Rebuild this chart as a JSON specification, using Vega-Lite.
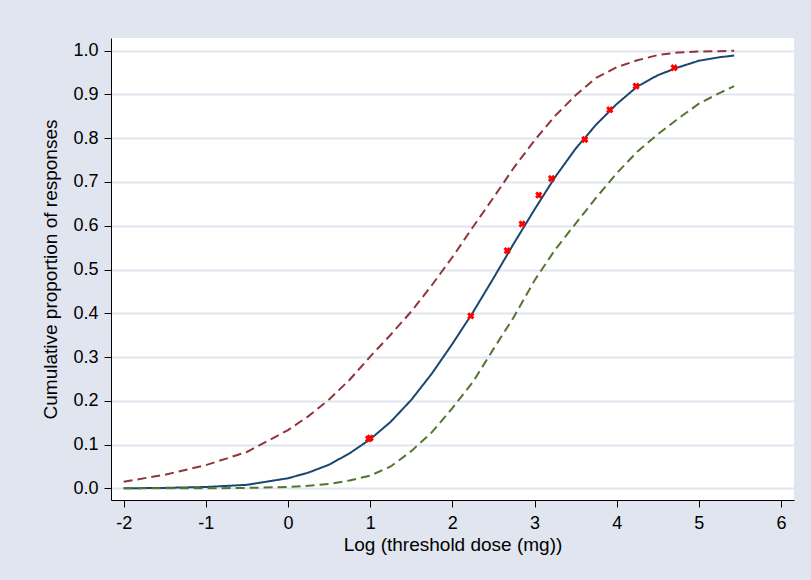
{
  "$schema": "https://vega.github.io/schema/vega-lite/v6.json",
  "width": 683,
  "height": 462,
  "autosize": "none",
  "padding": {"left": 111, "top": 38, "right": 17, "bottom": 80},
  "background": "#e1e5ef",
  "view": {"fill": "white", "stroke": null},
  "config": {
    "font": "Liberation Sans",
    "axis": {
      "domainColor": "black",
      "domainWidth": 1,
      "tickColor": "black",
      "tickSize": 7,
      "labelFontSize": 18,
      "labelColor": "black",
      "titleFontSize": 19,
      "titleColor": "black",
      "titleFontWeight": "normal"
    }
  },
  "datasets": {
    "curves": [
      {"x": -2, "y": 0.000, "s": "fit"}, {"x": -1.5, "y": 0.001, "s": "fit"}, {"x": -1, "y": 0.003, "s": "fit"}, {"x": -0.5, "y": 0.008, "s": "fit"},
      {"x": 0, "y": 0.023, "s": "fit"}, {"x": 0.25, "y": 0.036, "s": "fit"}, {"x": 0.5, "y": 0.054, "s": "fit"}, {"x": 0.75, "y": 0.080, "s": "fit"},
      {"x": 1, "y": 0.112, "s": "fit"}, {"x": 1.25, "y": 0.152, "s": "fit"}, {"x": 1.5, "y": 0.202, "s": "fit"}, {"x": 1.75, "y": 0.262, "s": "fit"},
      {"x": 2, "y": 0.330, "s": "fit"}, {"x": 2.25, "y": 0.402, "s": "fit"}, {"x": 2.5, "y": 0.480, "s": "fit"}, {"x": 2.75, "y": 0.560, "s": "fit"},
      {"x": 3, "y": 0.637, "s": "fit"}, {"x": 3.25, "y": 0.711, "s": "fit"}, {"x": 3.5, "y": 0.776, "s": "fit"}, {"x": 3.75, "y": 0.831, "s": "fit"},
      {"x": 4, "y": 0.878, "s": "fit"}, {"x": 4.25, "y": 0.918, "s": "fit"}, {"x": 4.5, "y": 0.944, "s": "fit"}, {"x": 4.75, "y": 0.962, "s": "fit"},
      {"x": 5, "y": 0.977, "s": "fit"}, {"x": 5.25, "y": 0.985, "s": "fit"}, {"x": 5.43, "y": 0.989, "s": "fit"},
      {"x": -2, "y": 0.015, "s": "upper"}, {"x": -1.5, "y": 0.031, "s": "upper"}, {"x": -1, "y": 0.053, "s": "upper"}, {"x": -0.5, "y": 0.083, "s": "upper"},
      {"x": 0, "y": 0.133, "s": "upper"}, {"x": 0.25, "y": 0.165, "s": "upper"}, {"x": 0.5, "y": 0.203, "s": "upper"}, {"x": 0.75, "y": 0.248, "s": "upper"},
      {"x": 1, "y": 0.301, "s": "upper"}, {"x": 1.25, "y": 0.351, "s": "upper"}, {"x": 1.5, "y": 0.404, "s": "upper"}, {"x": 1.75, "y": 0.464, "s": "upper"},
      {"x": 2, "y": 0.528, "s": "upper"}, {"x": 2.25, "y": 0.597, "s": "upper"}, {"x": 2.5, "y": 0.664, "s": "upper"}, {"x": 2.75, "y": 0.733, "s": "upper"},
      {"x": 3, "y": 0.795, "s": "upper"}, {"x": 3.25, "y": 0.851, "s": "upper"}, {"x": 3.5, "y": 0.898, "s": "upper"}, {"x": 3.75, "y": 0.938, "s": "upper"},
      {"x": 4, "y": 0.962, "s": "upper"}, {"x": 4.25, "y": 0.978, "s": "upper"}, {"x": 4.5, "y": 0.990, "s": "upper"}, {"x": 4.75, "y": 0.996, "s": "upper"},
      {"x": 5, "y": 0.998, "s": "upper"}, {"x": 5.25, "y": 0.999, "s": "upper"}, {"x": 5.43, "y": 1.000, "s": "upper"},
      {"x": -2, "y": 0.000, "s": "lower"}, {"x": -1.5, "y": 0.000, "s": "lower"}, {"x": -1, "y": 0.000, "s": "lower"}, {"x": -0.5, "y": 0.001, "s": "lower"},
      {"x": 0, "y": 0.003, "s": "lower"}, {"x": 0.25, "y": 0.006, "s": "lower"}, {"x": 0.5, "y": 0.010, "s": "lower"}, {"x": 0.75, "y": 0.018, "s": "lower"},
      {"x": 1, "y": 0.029, "s": "lower"}, {"x": 1.25, "y": 0.050, "s": "lower"}, {"x": 1.5, "y": 0.085, "s": "lower"}, {"x": 1.75, "y": 0.128, "s": "lower"},
      {"x": 2, "y": 0.183, "s": "lower"}, {"x": 2.25, "y": 0.243, "s": "lower"}, {"x": 2.5, "y": 0.318, "s": "lower"}, {"x": 2.75, "y": 0.392, "s": "lower"},
      {"x": 3, "y": 0.475, "s": "lower"}, {"x": 3.25, "y": 0.545, "s": "lower"}, {"x": 3.5, "y": 0.605, "s": "lower"}, {"x": 3.75, "y": 0.664, "s": "lower"},
      {"x": 4, "y": 0.720, "s": "lower"}, {"x": 4.25, "y": 0.769, "s": "lower"}, {"x": 4.5, "y": 0.809, "s": "lower"}, {"x": 4.75, "y": 0.845, "s": "lower"},
      {"x": 5, "y": 0.879, "s": "lower"}, {"x": 5.25, "y": 0.903, "s": "lower"}, {"x": 5.43, "y": 0.919, "s": "lower"}
    ],
    "obs": [
      {"x": 0.98, "y": 0.113}, {"x": 1.0, "y": 0.115}, {"x": 2.225, "y": 0.394}, {"x": 2.667, "y": 0.543},
      {"x": 2.849, "y": 0.604}, {"x": 3.052, "y": 0.670}, {"x": 3.207, "y": 0.708}, {"x": 3.612, "y": 0.797},
      {"x": 3.916, "y": 0.865}, {"x": 4.236, "y": 0.919}, {"x": 4.698, "y": 0.961}
    ]
  },
  "encoding": {
    "x": {
      "field": "x", "type": "quantitative",
      "scale": {"domain": [-2.154, 6.158], "nice": false, "zero": false},
      "axis": {"values": [-2, -1, 0, 1, 2, 3, 4, 5, 6], "labelExpr": "datum.value < 0 ? '-' + abs(datum.value) : datum.label", "grid": false, "title": "Log (threshold dose (mg))", "labelPadding": 7, "titlePadding": 3}
    },
    "y": {
      "field": "y", "type": "quantitative",
      "scale": {"domain": [-0.0267, 1.029], "nice": false, "zero": false},
      "axis": {"values": [0, 0.1, 0.2, 0.3, 0.4, 0.5, 0.6, 0.7, 0.8, 0.9, 1.0], "format": ".1f", "grid": true, "gridColor": "#e1e5ef", "gridWidth": 2, "title": "Cumulative proportion of responses", "labelPadding": 6, "titlePadding": 12}
    }
  },
  "layer": [
    {
      "data": {"name": "curves"},
      "mark": {"type": "line", "strokeWidth": 2, "clip": true},
      "encoding": {
        "color": {"field": "s", "type": "nominal", "scale": {"domain": ["fit", "upper", "lower"], "range": ["#1a476f", "#90353b", "#55752f"]}, "legend": null},
        "strokeDash": {"field": "s", "type": "nominal", "scale": {"domain": ["fit", "upper", "lower"], "range": [[1, 0], [9, 5], [9, 5]]}, "legend": null}
      }
    },
    {
      "data": {"name": "obs"},
      "mark": {"type": "point", "shape": "cross", "angle": 45, "filled": true, "color": "#ff0000", "size": 55, "opacity": 1}
    }
  ]
}
